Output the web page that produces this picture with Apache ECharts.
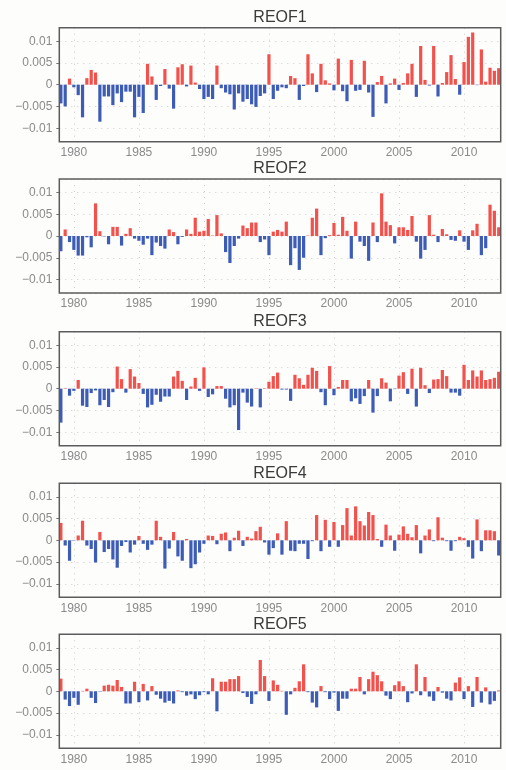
<!DOCTYPE html>
<html>
<head>
<meta charset="utf-8">
<title>REOF</title>
<script src="https://cdn.jsdelivr.net/npm/echarts@6/dist/echarts.min.js"></script>
<style>
html, body { margin: 0; padding: 0; background: #fdfdfc; }
#main { width: 506px; height: 770px; }
</style>
</head>
<body>
<div id="main"></div>
<script>
// three values per year, 1979-2012
var startYear = 1979;
var endYear = 2012;
var perYear = 3;

var names = ['REOF1', 'REOF2', 'REOF3', 'REOF4', 'REOF5'];

var reof1 = [-0.0043,-0.0050,0.0014,-0.0006,-0.0024,-0.0075,0.0015,0.0034,0.0028,-0.0085,
  -0.0027,-0.0027,-0.0047,-0.0020,-0.0040,-0.0016,-0.0016,-0.0075,-0.0028,-0.0065,
  0.0048,0.0019,-0.0035,-0.0003,0.0036,-0.0009,-0.0055,0.0040,0.0047,-0.0004,
  0.0044,0.0005,-0.0010,-0.0033,-0.0028,-0.0033,0.0044,-0.0008,-0.0018,-0.0022,
  -0.0057,-0.0020,-0.0039,-0.0033,-0.0045,-0.0051,-0.0026,-0.0020,0.0070,-0.0033,
  -0.0014,-0.0006,-0.0008,0.0020,0.0015,-0.0035,-0.0003,0.0070,0.0026,-0.0017,
  0.0048,0.0010,0.0003,-0.0013,0.0060,-0.0015,-0.0038,0.0057,-0.0014,-0.0012,
  0.0055,-0.0018,-0.0074,0.0006,0.0020,-0.0043,0.0003,0.0014,-0.0012,0.0004,
  0.0026,0.0048,-0.0028,0.0089,0.0011,-0.0002,0.0089,-0.0027,0.0004,0.0029,
  0.0068,0.0013,-0.0023,0.0052,0.0110,0.0120,-0.0001,0.0081,0.0007,0.0039,
  0.0032,0.0038];

var reof2 = [-0.0035,0.0015,-0.0014,-0.0032,-0.0045,-0.0045,-0.0003,-0.0026,0.0075,0.0011,
  -0.0001,-0.0019,0.0021,0.0021,-0.0022,0.0005,0.0018,-0.0006,-0.0011,-0.0020,
  -0.0006,-0.0044,-0.0015,-0.0023,-0.0029,0.0015,0.0009,-0.0019,-0.0002,0.0015,
  0.0005,0.0042,0.0010,0.0012,0.0039,0.0001,0.0048,0.0006,-0.0037,-0.0062,
  -0.0023,-0.0006,0.0024,0.0018,0.0031,0.0031,-0.0014,-0.0008,-0.0044,0.0010,
  0.0014,0.0010,0.0033,-0.0067,-0.0028,-0.0078,-0.0050,0.0001,0.0042,0.0063,
  -0.0044,-0.0005,0.0002,0.0030,0.0003,0.0044,0.0012,-0.0052,0.0033,-0.0013,
  -0.0023,-0.0057,0.0031,-0.0014,0.0098,0.0033,0.0025,-0.0017,0.0020,0.0020,
  0.0014,0.0046,-0.0013,-0.0052,-0.0032,0.0048,0.0003,-0.0014,0.0016,0.0004,
  -0.0009,-0.0011,0.0013,-0.0013,-0.0032,0.0013,0.0028,-0.0044,-0.0028,0.0072,
  0.0058,0.0020];

var reof3 = [-0.0078,0.0001,-0.0016,-0.0005,0.0020,-0.0039,-0.0042,-0.0010,-0.0004,-0.0038,
  -0.0026,-0.0042,-0.0008,0.0051,0.0022,-0.0009,0.0045,0.0028,0.0013,-0.0012,
  -0.0043,-0.0037,-0.0014,-0.0030,-0.0018,-0.0018,0.0028,0.0041,0.0018,-0.0026,
  0.0005,0.0025,-0.0005,0.0049,-0.0019,-0.0013,0.0006,0.0006,-0.0023,-0.0043,
  -0.0038,-0.0095,-0.0009,-0.0032,-0.0041,0.0001,-0.0043,0.0001,0.0016,0.0029,
  0.0037,-0.0002,-0.0002,-0.0028,0.0032,0.0024,0.0009,0.0032,0.0048,0.0041,
  -0.0008,-0.0038,0.0052,-0.0015,0.0004,0.0020,0.0020,-0.0029,-0.0022,-0.0035,
  -0.0017,0.0020,-0.0055,-0.0017,0.0024,0.0014,-0.0029,-0.0001,0.0030,0.0038,
  -0.0012,0.0046,-0.0041,0.0048,0.0008,-0.0010,0.0021,0.0022,0.0043,0.0029,
  -0.0009,-0.0009,-0.0016,0.0055,0.0020,0.0042,0.0028,0.0042,0.0020,0.0022,
  0.0025,0.0039];

var reof4 = [0.0040,-0.0012,-0.0047,-0.0001,0.0011,0.0045,-0.0012,-0.0020,-0.0051,0.0019,
  -0.0027,-0.0020,-0.0044,-0.0063,-0.0013,-0.0004,-0.0028,-0.0010,0.0010,-0.0008,
  -0.0022,-0.0010,0.0045,0.0008,-0.0065,-0.0019,0.0019,-0.0037,-0.0047,0.0003,
  -0.0064,-0.0055,-0.0028,-0.0008,0.0011,0.0010,-0.0009,0.0015,0.0018,-0.0025,
  0.0006,0.0022,-0.0013,0.0008,0.0004,0.0021,0.0031,-0.0005,-0.0033,-0.0018,
  0.0016,-0.0033,0.0044,-0.0024,-0.0025,-0.0008,-0.0008,-0.0043,-0.0002,0.0058,
  -0.0025,0.0047,-0.0015,0.0042,-0.0015,0.0035,0.0074,0.0011,0.0078,0.0044,
  0.0034,0.0065,0.0058,0.0003,-0.0015,0.0036,0.0011,-0.0024,0.0013,0.0032,
  0.0015,0.0007,0.0035,-0.0030,0.0011,0.0025,-0.0002,0.0053,0.0006,-0.0002,
  -0.0024,-0.0002,0.0008,0.0005,-0.0015,-0.0042,0.0048,-0.0025,0.0023,0.0023,
  0.0021,-0.0035];

var reof5 = [0.0029,-0.0019,-0.0034,-0.0015,-0.0031,0.0001,0.0006,-0.0015,-0.0027,-0.0001,
  0.0013,0.0015,0.0013,0.0026,0.0010,-0.0028,-0.0028,0.0022,-0.0025,0.0017,
  -0.0021,0.0012,-0.0008,-0.0017,-0.0026,-0.0022,-0.0028,0.0002,-0.0002,-0.0010,
  -0.0007,-0.0018,-0.0009,-0.0002,-0.0007,0.0030,-0.0046,0.0022,0.0022,0.0028,
  0.0028,0.0035,-0.0004,-0.0013,-0.0029,-0.0007,0.0072,0.0035,-0.0022,0.0025,
  0.0015,0.0001,-0.0054,-0.0007,0.0008,0.0023,0.0062,-0.0002,-0.0026,-0.0037,
  0.0012,-0.0002,-0.0018,-0.0003,-0.0045,-0.0017,-0.0017,0.0006,0.0006,0.0033,
  -0.0007,0.0028,0.0045,0.0037,0.0023,-0.0010,-0.0018,0.0014,0.0023,0.0012,
  -0.0025,-0.0005,0.0062,-0.0009,0.0033,-0.0012,-0.0022,0.0010,-0.0003,-0.0017,
  -0.0021,0.0020,0.0032,-0.0018,0.0012,-0.0036,0.0033,-0.0026,0.0009,-0.0030,
  -0.0022,0.0002];

var allSeries = [reof1, reof2, reof3, reof4, reof5];

// time positions of the bars
var times = [];
for (var y = startYear; y <= endYear; y++) {
  for (var k = 0; k < perYear; k++) {
    times.push(y + k / perYear);
  }
}

var posColor = '#f2514c';
var negColor = '#3d5cb5';
var panelTops = [27.7, 179, 331.7, 483.3, 634.3];
var panelLeft = 59.3;
var panelWidth = 441.4;
var panelHeight = 114;

var labelFont = '"Liberation Sans", Arial, sans-serif';
var gridLine = { show: true, lineStyle: { color: '#cccccc', type: [1, 5], width: 1 } };

var grids = [], xAxes = [], yAxes = [], titles = [], series = [];
for (var p = 0; p < names.length; p++) {
  // grid on top so the frame is not broken by the dotted lines
  grids.push({
    left: panelLeft, top: panelTops[p], width: panelWidth, height: panelHeight, z: 5,
    show: true, borderColor: '#5c5c5c', borderWidth: 1.5, backgroundColor: 'transparent'
  });
  titles.push({
    text: names[p], left: panelLeft + panelWidth / 2, top: panelTops[p] - 18,
    textAlign: 'center', padding: 0,
    textStyle: { fontFamily: labelFont, fontSize: 16, fontWeight: 'normal', color: '#3a3a3a' }
  });
  xAxes.push({
    type: 'value', gridIndex: p, min: 1978.88, max: 2012.82, splitNumber: 7,
    axisLine: { show: false }, axisTick: { show: false },
    axisLabel: {
      showMinLabel: false, showMaxLabel: false, margin: 5,
      fontFamily: labelFont, fontSize: 12, color: '#8a8a8a',
      formatter: function (v) { return String(v); }
    },
    splitLine: gridLine
  });
  yAxes.push({
    type: 'value', gridIndex: p, min: -0.0131, max: 0.0131, splitNumber: 5,
    axisLine: { show: false },
    axisTick: { show: true, inside: false, length: 3, lineStyle: { color: '#777' } },
    axisLabel: {
      showMinLabel: false, showMaxLabel: false, margin: 7,
      fontFamily: labelFont, fontSize: 12, color: '#8a8a8a',
      formatter: function (v) { return v === 0 ? '0' : String(v).replace('-', '\u2212'); }
    },
    splitLine: gridLine
  });
  var vals = allSeries[p];
  series.push({
    type: 'bar', name: names[p], xAxisIndex: p, yAxisIndex: p, barWidth: 3.2,
    data: times.map(function (t, j) { return [t, vals[j]]; }),
    itemStyle: {
      color: function (params) { return params.value[1] >= 0 ? posColor : negColor; }
    },
    silent: true
  });
}

var chart = echarts.init(document.getElementById('main'), null, { renderer: 'canvas' });
chart.setOption({
  animation: false,
  backgroundColor: '#fdfdfc',
  title: titles,
  grid: grids,
  xAxis: xAxes,
  yAxis: yAxes,
  series: series
});
</script>
</body>
</html>
